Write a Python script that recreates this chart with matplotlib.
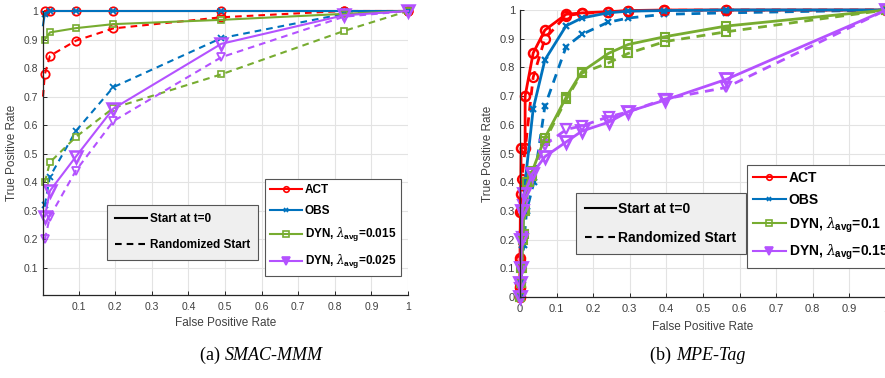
import matplotlib.pyplot as plt
from matplotlib.lines import Line2D

plt.rcParams['font.family'] = ['Liberation Sans', 'DejaVu Sans']
plt.rcParams['mathtext.fontset'] = 'custom'
plt.rcParams['mathtext.rm'] = 'Liberation Sans'
plt.rcParams['mathtext.it'] = 'DejaVu Serif:italic'
plt.rcParams['mathtext.bf'] = 'Liberation Sans:bold'

# (a) SMAC-MMM
smac_fpr = [0.008, 0.022, 0.093, 0.195, 0.49, 0.825, 1.0]
smac_fpr_ext = [0.003, 0.008, 0.022, 0.093, 0.195, 0.49, 0.825, 1.0]
smac_act_t0 = [1, 1, 1, 1, 1, 1, 1]
smac_act_rand = [0.70, 0.778, 0.843, 0.896, 0.939, 0.978, 1.0, 1.0]
smac_obs_t0 = [0.95, 0.99, 1, 1, 1, 1, 1, 1]
smac_obs_rand = [0.32, 0.42, 0.58, 0.733, 0.905, 0.99, 1.0]
smac_dyn1_t0 = [0.90, 0.925, 0.94, 0.954, 0.969, 0.99, 1.0]
smac_dyn1_rand = [0.40, 0.47, 0.559, 0.66, 0.778, 0.93, 1.0]
smac_dyn2_t0 = [0.28, 0.37, 0.49, 0.658, 0.885, 0.985, 1.0]
smac_dyn2_rand = [0.20, 0.28, 0.441, 0.614, 0.838, 0.98, 1.0]

# (b) MPE-Tag
mpe_act_t0_fpr = [0, 0, 0, 0.001, 0.002, 0.003, 0.014, 0.014, 0.036, 0.068, 0.126, 0.169, 0.24, 0.296, 0.394, 0.563, 1.0]
mpe_act_t0 = [0, 0.036, 0.135, 0.297, 0.36, 0.52, 0.52, 0.70, 0.85, 0.93, 0.985, 0.99, 0.994, 0.998, 1, 1, 1]
mpe_act_rand_fpr = [0, 0, 0.001, 0.003, 0.005, 0.036, 0.068, 0.126, 0.169, 0.24, 0.296, 0.394, 0.563, 1.0]
mpe_act_rand = [0, 0.03, 0.13, 0.30, 0.41, 0.766, 0.90, 0.98, 0.988, 0.993, 0.997, 0.999, 1, 1]
mpe_obs_t0_fpr = [0, 0.002, 0.006, 0.01, 0.014, 0.036, 0.068, 0.126, 0.169, 0.24, 0.296, 0.394, 0.563, 1.0]
mpe_obs_t0 = [0, 0.05, 0.18, 0.30, 0.40, 0.655, 0.826, 0.945, 0.972, 0.99, 0.996, 0.998, 1, 1]
mpe_obs_rand_fpr = [0, 0.003, 0.01, 0.018, 0.038, 0.068, 0.126, 0.169, 0.24, 0.296, 0.394, 0.563, 1.0]
mpe_obs_rand = [0, 0.05, 0.18, 0.30, 0.40, 0.665, 0.872, 0.915, 0.957, 0.972, 0.985, 0.99, 1]
mpe_dyn1_t0_fpr = [0, 0.002, 0.004, 0.008, 0.01, 0.02, 0.034, 0.068, 0.127, 0.169, 0.242, 0.296, 0.396, 0.563, 1.0]
mpe_dyn1_t0 = [0, 0.05, 0.10, 0.20, 0.30, 0.40, 0.44, 0.555, 0.698, 0.785, 0.849, 0.88, 0.907, 0.944, 1]
mpe_dyn1_rand_fpr = [0, 0.002, 0.005, 0.01, 0.014, 0.025, 0.034, 0.068, 0.127, 0.169, 0.242, 0.296, 0.396, 0.563, 1.0]
mpe_dyn1_rand = [0, 0.05, 0.10, 0.22, 0.30, 0.40, 0.42, 0.545, 0.69, 0.78, 0.816, 0.849, 0.89, 0.924, 1]
mpe_dyn2_t0_fpr = [0, 0, 0.002, 0.004, 0.006, 0.012, 0.034, 0.068, 0.127, 0.169, 0.242, 0.296, 0.396, 0.563, 1.0]
mpe_dyn2_t0 = [0, 0.05, 0.10, 0.20, 0.30, 0.36, 0.43, 0.489, 0.541, 0.578, 0.609, 0.646, 0.686, 0.758, 1]
mpe_dyn2_rand_fpr = [0, 0.001, 0.002, 0.005, 0.008, 0.02, 0.034, 0.068, 0.127, 0.169, 0.242, 0.296, 0.396, 0.563, 1.0]
mpe_dyn2_rand = [0, 0.03, 0.10, 0.21, 0.32, 0.38, 0.43, 0.53, 0.584, 0.596, 0.628, 0.645, 0.69, 0.73, 1]

red = '#ff0000'
blue = '#0072bd'
green = '#77ac30'
purple = '#b452ff'
gray = '#262626'

fig = plt.figure(figsize=(8.85, 3.78), dpi=100)
ax1 = fig.add_axes([43/885, 83/378, 365/885, 284/378])
ax2 = fig.add_axes([520/885, 81/378, 366/885, 287/378])


def style_axes(ax, tick_size):
    ax.grid(True, color='#e3e3e3', linewidth=0.8)
    ax.set_axisbelow(True)
    for s in ['top', 'right']:
        ax.spines[s].set_visible(False)
    for s in ['left', 'bottom']:
        ax.spines[s].set_color(gray)
        ax.spines[s].set_linewidth(0.9)
    ax.tick_params(direction='in', length=3, width=0.7, colors=gray,
                   labelsize=tick_size, labelcolor='#404040')
    ax.tick_params(axis='x', pad=5)


def draw(ax, x, y, color, marker, ls, lw, ms, mew, skip_first=False):
    every = list(range(1, len(x))) if skip_first else None
    ax.plot(x, y, color=color, linestyle=ls, linewidth=lw, marker=marker,
            markersize=ms, markerfacecolor='none', markeredgewidth=mew,
            markevery=every, clip_on=False,
            dashes=(3.2, 2.4) if ls == '--' else (None, None))


# left panel
lw = 1.5
draw(ax1, smac_fpr_ext, smac_act_rand, red, 'o', '--', lw, 6, 1.3, skip_first=True)
draw(ax1, smac_fpr, smac_obs_rand, blue, 'x', '--', lw, 4, 1.3)
draw(ax1, smac_fpr, smac_dyn1_rand, green, 's', '--', lw, 5, 1.2)
draw(ax1, smac_fpr, smac_dyn2_rand, purple, 'v', '--', lw, 6, 1.3)
draw(ax1, smac_fpr, smac_act_t0, red, 'o', '-', lw, 6, 1.3)
draw(ax1, smac_fpr_ext, smac_obs_t0, blue, 'x', '-', lw, 4, 1.3, skip_first=True)
draw(ax1, smac_fpr, smac_dyn1_t0, green, 's', '-', lw, 5, 1.2)
draw(ax1, smac_fpr, smac_dyn2_t0, purple, 'v', '-', lw, 8, 1.8)
ax1.set_xlim(0.003, 1)
ax1.set_ylim(0.005, 1)
ax1.set_xticks([0.1, 0.2, 0.3, 0.4, 0.5, 0.6, 0.7, 0.8, 0.9, 1])
ax1.set_xticklabels(['0.1', '0.2', '0.3', '0.4', '0.5', '0.6', '0.7', '0.8', '0.9', '1'])
ax1.set_yticks([0.1, 0.2, 0.3, 0.4, 0.5, 0.6, 0.7, 0.8, 0.9, 1])
ax1.set_yticklabels(['0.1', '0.2', '0.3', '0.4', '0.5', '0.6', '0.7', '0.8', '0.9', '1'])
style_axes(ax1, 7.5)
ax1.set_xlabel('False Positive Rate', fontsize=8.5, color='#404040', labelpad=4)
ax1.set_ylabel('True Positive Rate', fontsize=8.5, color='#404040', labelpad=4)

# right panel
lw2 = 2.0
draw(ax2, mpe_act_rand_fpr, mpe_act_rand, red, 'o', '--', lw2, 6.5, 1.6)
draw(ax2, mpe_obs_rand_fpr, mpe_obs_rand, blue, 'x', '--', lw2, 4, 1.6)
draw(ax2, mpe_dyn1_rand_fpr, mpe_dyn1_rand, green, 's', '--', lw2, 5.5, 1.5)
draw(ax2, mpe_dyn2_rand_fpr, mpe_dyn2_rand, purple, 'v', '--', lw2, 7, 1.6)
draw(ax2, mpe_act_t0_fpr, mpe_act_t0, red, 'o', '-', lw2, 6.5, 1.8)
draw(ax2, mpe_obs_t0_fpr, mpe_obs_t0, blue, 'x', '-', lw2, 4, 1.6)
draw(ax2, mpe_dyn1_t0_fpr, mpe_dyn1_t0, green, 's', '-', lw2, 5.5, 1.5)
draw(ax2, mpe_dyn2_t0_fpr, mpe_dyn2_t0, purple, 'v', '-', lw2, 8, 2.0)
ax2.set_xlim(0, 1)
ax2.set_ylim(0, 1)
ax2.set_xticks([0, 0.1, 0.2, 0.3, 0.4, 0.5, 0.6, 0.7, 0.8, 0.9, 1])
ax2.set_xticklabels(['0', '0.1', '0.2', '0.3', '0.4', '0.5', '0.6', '0.7', '0.8', '0.9', '1'])
ax2.set_yticks([0, 0.1, 0.2, 0.3, 0.4, 0.5, 0.6, 0.7, 0.8, 0.9, 1])
ax2.set_yticklabels(['0', '0.1', '0.2', '0.3', '0.4', '0.5', '0.6', '0.7', '0.8', '0.9', '1'])
style_axes(ax2, 8)
ax2.set_xlabel('False Positive Rate', fontsize=8.5, color='#404040', labelpad=5)
ax2.set_ylabel('True Positive Rate', fontsize=8.5, color='#404040', labelpad=4)

# legends
style_handles = [Line2D([], [], color='black', lw=1.5),
                 Line2D([], [], color='black', lw=1.5, ls='--', dashes=(3.2, 2.4))]
style_labels = ['Start at t=0', 'Randomized Start']


def method_handles(lw, names):
    specs = [(red, 'o', 4), (blue, 'x', 3), (green, 's', 4), (purple, 'v', 6)]
    hs = []
    for c, m, ms in specs:
        hs.append(Line2D([], [], color=c, lw=lw, marker=m, markersize=ms,
                         markerfacecolor=c if m == 'v' else 'none', markeredgewidth=1.2))
    return hs


left_names = ['ACT', 'OBS', r'DYN, $\lambda_{\mathbf{avg}}$=0.015', r'DYN, $\lambda_{\mathbf{avg}}$=0.025']
right_names = ['ACT', 'OBS', r'DYN, $\lambda_{\mathbf{avg}}$=0.1', r'DYN, $\lambda_{\mathbf{avg}}$=0.15']

leg1 = ax1.legend(style_handles, style_labels, loc='upper left',
                  bbox_to_anchor=(107/885, 1 - 205/378), bbox_transform=fig.transFigure,
                  prop={'weight': 'bold', 'size': 8.5}, fancybox=False, framealpha=1,
                  facecolor='#efefef', edgecolor='#555555', handlelength=2.7,
                  labelspacing=1.2, borderpad=0.7, handletextpad=0.2, borderaxespad=0)
leg1.get_frame().set_linewidth(0.8)
ax1.add_artist(leg1)
leg2 = ax1.legend(method_handles(1.5, left_names), left_names, loc='upper left',
                  bbox_to_anchor=(265/885, 1 - 179/378), bbox_transform=fig.transFigure,
                  prop={'weight': 'bold', 'size': 8.5}, fancybox=False, framealpha=1,
                  facecolor='white', edgecolor='#555555', handlelength=2.7,
                  labelspacing=0.75, borderpad=0.45, handletextpad=0.2, borderaxespad=0)
leg2.get_frame().set_linewidth(0.8)

leg3 = ax2.legend(style_handles, style_labels, loc='upper left',
                  bbox_to_anchor=(576/885, 1 - 193/378), bbox_transform=fig.transFigure,
                  prop={'weight': 'bold', 'size': 10}, fancybox=False, framealpha=1,
                  facecolor='#efefef', edgecolor='#555555', handlelength=2.2,
                  labelspacing=1.1, borderpad=0.65, handletextpad=0.2, borderaxespad=0)
leg3.get_frame().set_linewidth(0.8)
ax2.add_artist(leg3)
leg4 = ax2.legend(method_handles(1.5, right_names), right_names, loc='upper left',
                  bbox_to_anchor=(747/885, 1 - 165/378), bbox_transform=fig.transFigure,
                  prop={'weight': 'bold', 'size': 10}, fancybox=False, framealpha=1,
                  facecolor='white', edgecolor='#555555', handlelength=2.4,
                  labelspacing=0.6, borderpad=0.4, handletextpad=0.2, borderaxespad=0)
leg4.get_frame().set_linewidth(0.8)

# captions
fig.text(225/885, 1 - 355/378, '(a) ', fontsize=13, family='Liberation Serif', ha='right', va='center')
fig.text(225/885, 1 - 355/378, 'SMAC-MMM', fontsize=13, family='Liberation Serif', style='italic', ha='left', va='center')
fig.text(676/885, 1 - 355/378, '(b) ', fontsize=13, family='Liberation Serif', ha='right', va='center')
fig.text(676/885, 1 - 355/378, 'MPE-Tag', fontsize=13, family='Liberation Serif', style='italic', ha='left', va='center')

fig.savefig('out.png', dpi=100)
